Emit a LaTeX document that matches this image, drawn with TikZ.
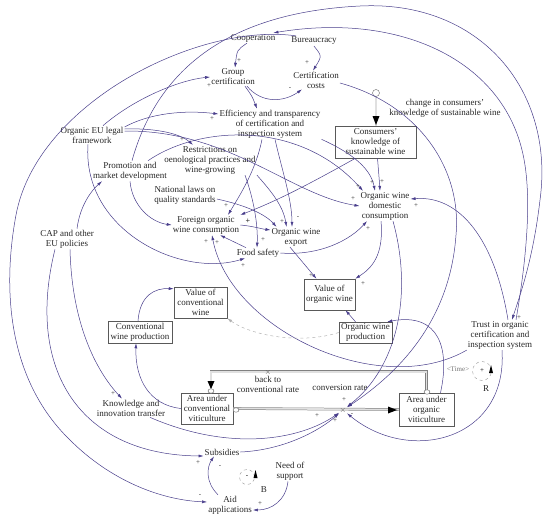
\documentclass[tikz,border=0pt]{standalone}
\usepackage{fontspec}
\setmainfont{Liberation Serif}
\usetikzlibrary{arrows.meta,shapes.geometric}
\definecolor{arc}{RGB}{72,61,139}
\begin{document}
\begin{tikzpicture}[x=1pt,y=-1pt,
  lab/.style={font=\fontsize{9}{10}\selectfont, align=center, inner sep=1pt, text=black!85},
  box/.style={lab, draw=black!65, line width=0.5pt, inner sep=1pt},
  conn/.style={draw=arc, line width=0.5pt, -{Latex[length=5pt,width=3pt]}},
  sgn/.style={font=\fontsize{7}{7}\selectfont, text=black!80, inner sep=0},
  pipe/.style={draw=black!50, line width=0.5pt, double=black!12, double distance=1.6pt},
  cld/.style={ellipse, draw=black!60, fill=white, minimum width=6pt, minimum height=4.5pt, inner sep=0, line width=0.4pt},
  vlv/.style={font=\fontsize{8}{8}\selectfont, text=black!65, inner sep=0.5pt},
  loopc/.style={circle, draw=black!40, dashed, line width=0.4pt, inner sep=0, font=\fontsize{7}{7}\selectfont}]
\useasboundingbox (0,0) rectangle (550,525);

% ---------------- nodes ----------------
\node[lab] (coop) at (253,38) {Cooperation};
\node[lab] (bur) at (314,41) {Bureaucracy};
\node[lab] (grp) at (233,77) {Group\\certification};
\node[lab] (cost) at (316,80) {Certification\\costs};
\node[lab] (eff) at (270,124) {Efficiency and transparency\\of certification and\\inspection system};
\node[lab] (eu) at (92,135) {Organic EU legal\\framework};
\node[lab] (res) at (210,160) {Restrictions on\\oenological practices and\\wine-growing};
\node[lab] (prom) at (130,171) {Promotion and\\market development};
\node[box, minimum width=81pt, minimum height=32pt] (ck) at (375.5,142) {Consumers'\\knowledge of\\sustainable wine};
\node[lab] (chg) at (445,108) {change in consumers'\\knowledge of sustainable wine};
\node[lab] (nat) at (185,195) {National laws on\\quality standards};
\node[lab] (for) at (206,225) {Foreign organic\\wine consumption};
\node[lab] (exp) at (296,237) {Organic wine\\export};
\node[lab] (food) at (258,253) {Food safety};
\node[lab] (dom) at (385,206) {Organic wine\\domestic\\consumption};
\node[box, minimum width=51pt, minimum height=31pt] (vow) at (329.5,294.5) {Value of\\organic wine};
\node[box, minimum width=53pt, minimum height=21pt] (owp) at (365.5,332.5) {Organic wine\\production};
\node[lab] (trust) at (500,335) {Trust in organic\\certification and\\inspection system};
\node[lab] (cap) at (67,239) {CAP and other\\EU policies};
\node[box, minimum width=53pt, minimum height=31pt] (vcw) at (200.5,302.5) {Value of\\conventional\\wine};
\node[box, minimum width=64pt, minimum height=22pt] (cwp) at (140,332) {Conventional\\wine production};
\node[box, minimum width=52pt, minimum height=31pt] (acv) at (207,408.5) {Area under\\conventional\\viticulture};
\node[box, minimum width=55pt, minimum height=33pt] (aov) at (426.5,409.5) {Area under\\organic\\viticulture};
\node[lab] (kit) at (131,408) {Knowledge and\\innovation transfer};
\node[lab] (back) at (268,384) {back to\\conventional rate};
\node[lab] (convr) at (340,388) {conversion rate};
\node[lab] (sub) at (222,452) {Subsidies};
\node[lab] (aid) at (230,505) {Aid\\applications};
\node[lab] (need) at (290,471) {Need of\\support};
\node[font=\fontsize{7}{7}\selectfont, text=black!55, inner sep=0] (time) at (458,369) {<Time>};

% ---------------- flows ----------------
\draw[pipe] (aov.north) -- ++(0,-21) -| ([xshift=4pt]acv.north);
\fill[black] (207.5,381) -- (214.5,381) -- (211,389) -- cycle;
\draw[pipe] (acv.east) -- (aov.west);
\fill[black] (388,406.5) -- (388,413.5) -- (397,410) -- cycle;
\node[cld] (c1) at (211,391) {};
\node[cld] (c2) at (236,410) {};
\node[cld] (c3) at (427,392) {};
\node[vlv] (bval) at (268,372) {$\times$};
\node[vlv] (cvalve) at (343,410) {$\times$};
\node[circle, draw=black!60, fill=white, minimum size=7pt, inner sep=0, line width=0.4pt] (ckv) at (376,93) {};
\draw[pipe] (ckv.south) -- ([xshift=0.5pt]ck.north);
\fill[black] (372.5,116) -- (379.5,116) -- (376,125) -- cycle;

% ---------------- loops ----------------
\node[loopc, minimum size=19pt] (rloop) at (482,371) {+};
\fill[black] (489,373) -- (493,373) -- (491,365) -- cycle;
\node[lab] (rl) at (486,389) {R};
\node[loopc, minimum size=15pt] (bloop) at (247,477) {-};
\fill[black] (253.5,478) -- (257.5,478) -- (255.5,470) -- cycle;
\node[lab] (bl) at (264,490) {B};

% ---------------- connectors ----------------
\draw[conn] ([xshift=-6pt]coop.south) .. controls (237,50) .. ([xshift=2pt]grp.north);
\draw[conn] (bur.south) .. controls (322,56) .. ([xshift=-3pt]cost.north);
\draw[conn] ([xshift=12pt]grp.south) .. controls (252,96) .. ([xshift=-13pt]eff.north);
\draw[conn] ([xshift=14pt]grp.south) .. controls (262,104) and (284,102) .. ([xshift=-14pt]cost.south);
\draw[conn] ([xshift=11pt]eu.north) .. controls (135,98) and (180,80) .. (grp.west);
\draw[conn] ([yshift=8pt]eu.east) .. controls (150,113) and (185,110) .. ([yshift=10pt]eff.west);
\draw[conn] ([yshift=6pt]eu.east) .. controls (150,128) and (178,132) .. ([xshift=-17pt]res.north);
\draw[conn] ([yshift=4pt]eu.east) .. controls (230,130) and (290,195) .. (dom.west);
\draw[conn] ([xshift=-4pt]eu.south) .. controls (82,230) and (180,278) .. ([xshift=-13pt]food.south);
\draw[conn] (prom.south) .. controls (132,205) and (150,222) .. (for.west);
\draw[conn] ([xshift=2pt]prom.north) .. controls (160,60) and (240,12) .. (360,6) .. controls (480,0) and (555,90) .. (540,200) .. controls (533,260) and (520,295) .. ([xshift=12pt]trust.north);
\draw[conn] ([xshift=16pt]trust.north) .. controls (528,250) and (532,190) .. (522,150) .. controls (500,60) and (400,12) .. ([xshift=-3pt]coop.north east);
\draw[conn] ([xshift=6pt]bur.north west) .. controls (200,22) and (37,102) .. (16,215) .. controls (2,290) and (8,380) .. (70,440) .. controls (110,480) and (160,500) .. ([yshift=3pt]aid.west);
\draw[conn] ([xshift=10pt]cap.north) .. controls (80,205) and (92,190) .. ([xshift=-28pt]prom.south);
\draw[conn] ([xshift=3pt]cap.south) .. controls (72,330) and (100,375) .. ([xshift=-9pt]kit.north);
\draw[conn] ([xshift=-12pt]cap.south) .. controls (25,370) and (80,455) .. ([yshift=-4pt]sub.west);
\draw[conn] ([xshift=19pt]kit.south) .. controls (230,452) and (300,440) .. (cvalve);
\draw[conn] (sub.east) .. controls (285,450) and (320,430) .. (cvalve);
\draw[conn] ([xshift=8pt]dom.south) .. controls (412,290) and (400,365) .. (cvalve);
\draw[conn] ([yshift=-3pt]cost.east) .. controls (420,105) and (462,170) .. (456,235) .. controls (450,320) and (400,372) .. (cvalve);
\draw[conn] ([xshift=2pt]trust.south) .. controls (508,440) and (410,465) .. (cvalve);
\draw[conn] (trust.south west) .. controls (380,400) and (230,330) .. ([xshift=6pt]for.south);
\draw[conn] ([xshift=8pt]trust.north) .. controls (495,240) and (460,195) .. ([yshift=7pt]dom.east);
\draw[conn] ([xshift=-4pt]dom.south) .. controls (384,255) and (372,268) .. (vow.north east);
\draw[conn] ([xshift=-6pt]exp.south) -- ([xshift=-13pt]vow.north);
\draw[conn] ([xshift=-10pt]owp.north) -- ([xshift=16pt]vow.south);
\draw[conn, draw=black!30, dashed] (owp.west) .. controls (300,345) and (250,335) .. (vcw.south east);
\draw[conn] ([xshift=-2pt]cwp.north) .. controls (140,295) and (155,288) .. ([yshift=-2pt]vcw.north west);
\draw[conn] (acv.west) .. controls (150,405) and (135,380) .. ([xshift=-4pt]cwp.south);
\draw[conn] ([xshift=14pt]aov.north) .. controls (450,350) and (440,312) .. ([xshift=-5pt]owp.north east);
\draw[conn] (for.east) .. controls (252,226) and (262,229) .. ([yshift=7pt]exp.west);
\draw[conn] ([yshift=-4pt]nat.east) .. controls (245,205) and (265,214) .. ([xshift=6pt]exp.north west);
\draw[conn] (res.south east) .. controls (270,190) and (283,205) .. ([xshift=16pt]exp.north west);
\draw[conn] ([xshift=5pt]eff.south) .. controls (282,170) and (292,200) .. ([xshift=-4pt]exp.north);
\draw[conn] ([xshift=-8pt]eff.south) .. controls (256,170) and (240,195) .. ([xshift=22pt]for.north);
\draw[conn] ([xshift=-20pt]ck.south) .. controls (320,178) and (280,200) .. (for.north east);
\draw[conn] ([xshift=-12pt]food.north) -- ([xshift=14pt]for.south);
\draw[conn] ([xshift=35pt]res.south) .. controls (254,200) and (258,225) .. ([xshift=-1pt]food.north);
\draw[conn] (eff.south east) .. controls (345,150) and (370,165) .. ([xshift=-10pt]dom.north);
\draw[conn] ([xshift=2pt]ck.south) .. controls (379,172) .. ([xshift=-5pt]dom.north);
\draw[conn] ([xshift=18pt]prom.north) .. controls (200,125) and (300,120) .. ([xshift=-22pt]dom.north);
\draw[conn] (food.east) .. controls (320,256) and (350,240) .. ([xshift=-18pt]dom.south);
\draw[conn] ([xshift=-12pt]aid.north) .. controls (205,482) and (207,467) .. ([xshift=-8pt]sub.south);
\draw[conn] ([xshift=-2pt]need.south) .. controls (286,500) and (272,510) .. ([yshift=-5pt]aid.east);

% ---------------- polarity signs ----------------
\foreach \a/\b/\t [count=\i] in {239/61/+, 307/63/+, 290/89/-, 209/86/+, 212/119/+, 182/140/+,
  353/199/+, 358/187/+, 372/183/+, 382/182/+, 368/229/+, 416/206/+, 226/206/+, 206/242/+,
  217/243/+, 282/222/+, 298/218/-, 263/240/+, 243/266/+, 311/276/+, 363/284/+, 519/318/+,
  113/394/+, 198/463/+, 200/496/-, 220/467/-, 260/504/+, 344/400/+, 317/416/+, 335/421/+, 352/415/-}
  \node[sgn] (sg\i) at (\a,\b) {\t};
\node[sgn, font=\fontsize{8}{8}\selectfont\bfseries] (sgb) at (248,221) {+};
\end{tikzpicture}
\end{document}
